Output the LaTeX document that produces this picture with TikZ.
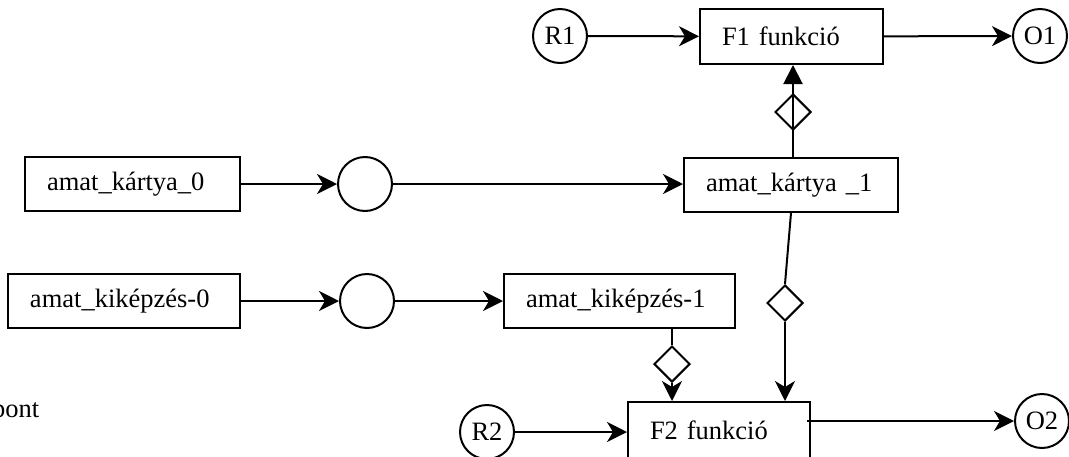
\documentclass[tikz,border=0pt]{standalone}
\usepackage{fontspec}
\setmainfont{Liberation Serif}
\usetikzlibrary{arrows.meta,shapes.geometric}
\tikzset{
  every node/.style={font=\fontsize{26.5}{31}\selectfont},
  lw/.style={line width=2pt},
  box/.style={draw, lw, rectangle, minimum height=54pt, inner xsep=22pt, inner ysep=0pt, align=left},
  circ/.style={draw, lw, circle, minimum size=54pt, inner sep=0pt},
  dia/.style={draw, lw, diamond, minimum width=36pt, minimum height=36pt, inner sep=0pt},
  arr/.style={lw, -{Stealth[length=20pt, width=20pt, inset=6pt]}},
  tri/.style={lw, -{Triangle[length=19pt, width=19pt]}},
  plain/.style={lw}
}
\begin{document}
\begin{tikzpicture}[x=1pt, y=-1pt]
\useasboundingbox (0,0) rectangle (1069,456);
% top row
\node[circ] (R1) at (560,36) {R1};
\node[box, text width=139pt, minimum height=55pt] (F1) at (791.5,36.5) {F1 funkció};
\node[circ] (O1) at (1040,36) {O1};
% row 2
\node[box, text width=171pt] (kk0) at (132.5,184) {amat\_kártya\_0};
\node[circ] (c1) at (365,184) {};
\node[box, text width=170pt] (kk1) at (791,185) {amat\_kártya \_1};
% row 3
\node[box, text width=188pt] (ki0) at (124,301) {amat\_kiképzés-0};
\node[circ] (c2) at (367,301) {};
\node[box, text width=187pt] (ki1) at (619.5,301) {amat\_kiképzés-1};
% diamonds
\node[dia] (d1) at (793,112) {};
\node[dia] (d2) at (672,364) {};
\node[dia] (d3) at (785,303) {};
% bottom row
\node[circ] (R2) at (487,432) {R2};
\node[box, text width=138pt, minimum height=56pt] (F2) at (719,430) {F2 funkció};
\node[circ] (O2) at (1042,421) {O2};
\node[anchor=base west, inner sep=0pt] (pont) at (-8,417) {pont};
% connectors
\draw[arr] (R1) -- (F1);
\draw[arr] (F1) -- (O1);
\draw[arr] (kk0) -- (c1);
\draw[arr] (c1) -- (c1 -| kk1.west);
\draw[arr] (ki0) -- (c2);
\draw[arr] (c2) -- (c2 -| ki1.west);
\draw[plain] (kk1.north -| d1) -- (d1.north);
\draw[tri] (d1.north) -- (d1 |- F1.south);
\draw[plain] (ki1.south -| d2) -- (d2.north);
\draw[arr] (d2.south) -- (d2 |- F2.north);
\draw[plain] (kk1.south) -- (d3.north);
\draw[arr] (d3.south) -- (d3 |- F2.north);
\draw[arr] (R2) -- (R2 -| F2.west);
\coordinate (f2out) at ([xshift=-4pt]F2.east |- O2);
\draw[arr] (f2out) -- (O2);
\end{tikzpicture}
\end{document}
